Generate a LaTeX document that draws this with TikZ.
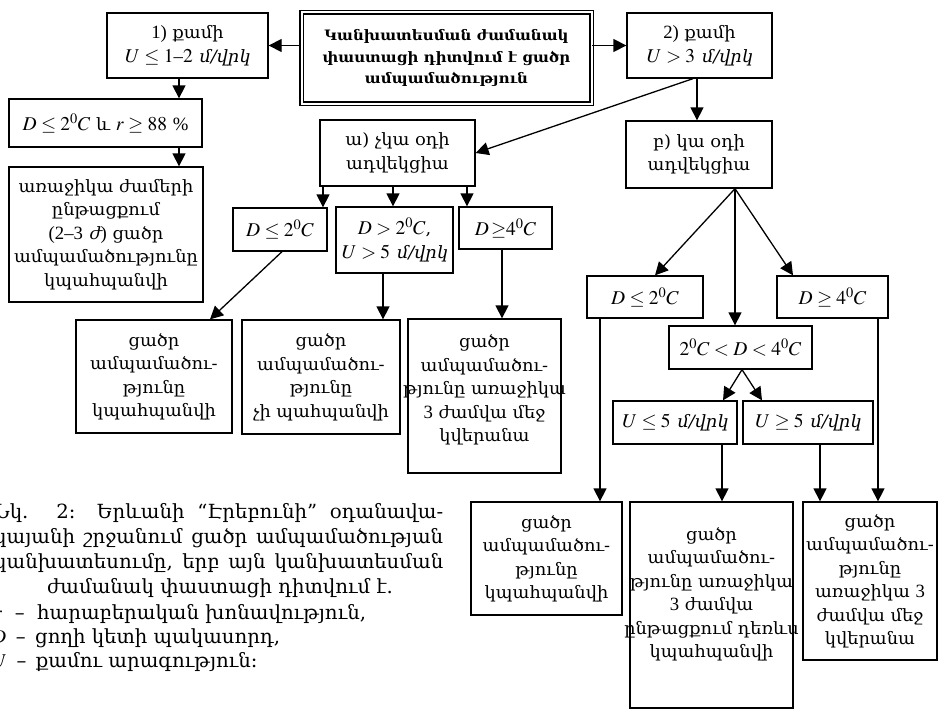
\documentclass[tikz,border=0pt]{standalone}
\usepackage{mathptmx}
\usepackage[no-math]{fontspec}
\setmainfont{DejaVu Serif}[Scale=0.87, FakeStretch=1.05]
\newfontfamily\tmfont{Liberation Serif}[Scale=0.96]
\newfontfamily\armit{DejaVu Serif}[Scale=0.87, FakeStretch=1.05, FakeSlant=0.2]
\newfontfamily\capfont{DejaVu Serif}[FakeStretch=1.01]
\newcommand\tm[1]{{\tmfont #1}}
\usetikzlibrary{arrows.meta,calc}
\tikzset{
  box/.style={draw, line width=1.3pt, inner sep=0pt, align=center,
    font=\fontsize{19.5}{23.5}\selectfont},
  ttl/.style={box, double, line width=1.4pt, double distance=2pt, font=\fontsize{16.5}{21.5}\selectfont\bfseries},
  arr/.style={line width=1.3pt, -{Triangle[length=13pt,width=13pt]}},
  captxt/.style={inner sep=0pt, font=\fontsize{19.5}{24.5}\selectfont\capfont},
}
\begin{document}
\begin{tikzpicture}[x=1pt,y=-1pt]
\useasboundingbox (0,0) rectangle (939,709);
% top
\node[ttl, minimum width=290, minimum height=91] (ttl) at (446.5,58)
  {Կանխատեսման ժամանակ\\փաստացի դիտվում է ցածր\\ամպամածություն};
\node[box, minimum width=161, minimum height=65] (b1) at (187.5,45.5)
  {\tm{1)} քամի\\$U\leq 1$\tm{–}$2$ {\armit մ/վրկ}};
\node[box, minimum width=145, minimum height=65] (b2) at (699.5,45.5)
  {\tm{2)} քամի\\$U>3$ {\armit մ/վրկ}};
% left column
\node[box, minimum width=193, minimum height=48] (bDr) at (105.5,123)
  {$D\leq 2^0C$ և $r\geq 88$ \tm{\%}};
\node[box, minimum width=194, minimum height=135] (bLong) at (106,234.5)
  {առաջիկա ժամերի\\ընթացքում\\\tm{(2–3} {\armit ժ}\tm{)} ցածր\\ամպամածությունը\\կպահպանվի};
% a-branch
\node[box, minimum width=155, minimum height=66] (bA) at (397.5,153)
  {ա) չկա օդի\\ադվեկցիա};
\node[box, minimum width=94, minimum height=43] (L1) at (280,229.5) {$D\leq 2^0C$};
\node[box, minimum width=117, minimum height=66] (L2) at (394.5,240)
  {$D>2^0C$,\\$U>5$ {\armit մ/վրկ}};
\node[box, minimum width=93, minimum height=42] (L3) at (505.5,228) {$D\,{\geq}4^0C$};
\node[box, minimum width=156, minimum height=113] (LA) at (154,376.5)
  {ցածր\\ամպամածու-\\թյունը\\կպահպանվի};
\node[box, minimum width=158, minimum height=114] (LB) at (321,377)
  {ցածր\\ամպամածու-\\թյունը\\չի պահպանվի};
\node[box, minimum width=153, minimum height=154] (LC) at (484.5,396) {};
\node[box, draw=none] at (484.5,390)
  {ցածր\\ամպամածու-\\թյունը առաջիկա\\\tm{3} ժամվա մեջ\\կվերանա};
% b-branch
\node[box, minimum width=146, minimum height=67] (bB) at (699,154.5)
  {բ) կա օդի\\ադվեկցիա};
\node[box, minimum width=116, minimum height=42] (R1) at (645,297) {$D\leq 2^0C$};
\node[box, minimum width=111, minimum height=42] (R3) at (832.5,297) {$D\geq 4^0C$};
\node[box, minimum width=143, minimum height=43] (R2) at (740.5,347.5) {$2^0C<D<4^0C$};
\node[box, minimum width=124, minimum height=43] (RU1) at (675,422.5) {$U\leq 5$ {\armit մ/վրկ}};
\node[box, minimum width=130, minimum height=43] (RU2) at (808,422.5) {$U\geq 5$ {\armit մ/վրկ}};
\node[box, minimum width=151, minimum height=113] (RA) at (546.5,558.5)
  {ցածր\\ամպամածու-\\թյունը\\կպահպանվի};
\node[box, minimum width=163, minimum height=206] (RB) at (711.5,605) {};
\node[box, draw=none] at (711.5,594)
  {ցածր\\ամպամածու-\\թյունը առաջիկա\\\tm{3} ժամվա\\ընթացքում դեռևս\\կպահպանվի};
\node[box, minimum width=134, minimum height=158] (RC) at (870,581)
  {ցածր\\ամպամածու-\\թյունը\\առաջիկա \tm{3}\\ժամվա մեջ\\կվերանա};
% arrows
\draw[arr] (ttl.west |- b1.east) -- (b1.east);
\draw[arr] (ttl.east |- b2.west) -- (b2.west);
\draw[arr] ([xshift=-8.5pt]b1.south) -- ([xshift=-8.5pt]b1.south |- bDr.north);
\draw[arr] ([xshift=73.5pt]bDr.south) -- ([xshift=73.5pt]bDr.south |- bLong.north);
\draw[arr] ([xshift=-6.5pt]b2.south) -- (bA.east);
\draw[arr] ([xshift=-2.5pt]b2.south) -- ([xshift=-2.5pt]b2.south |- bB.north);
\draw[arr] ([xshift=-74.5pt]bA.south) -- ([xshift=-74.5pt]bA.south |- L1.north);
\draw[arr] ([xshift=-4.5pt]bA.south) -- ([xshift=-4.5pt]bA.south |- L2.north);
\draw[arr] ([xshift=69.5pt]bA.south) -- ([xshift=69.5pt]bA.south |- L3.north);
\draw[arr] ([xshift=2pt]L1.south) -- ([xshift=56pt]LA.north);
\draw[arr] ([xshift=-11.5pt]L2.south) -- ([xshift=-11.5pt]L2.south |- LB.north);
\draw[arr] ([xshift=-3.5pt]L3.south) -- ([xshift=-3.5pt]L3.south |- LC.north);
\draw[arr] ([xshift=36pt]bB.south) -- ([xshift=10pt]R1.north);
\draw[arr] ([xshift=36pt]bB.south) -- ([xshift=36pt]bB.south |- R2.north);
\draw[arr] ([xshift=36pt]bB.south) -- ([xshift=-39.5pt]R3.north);
\draw[arr] ([xshift=1.5pt]R2.south) -- ([xshift=48pt]RU1.north);
\draw[arr] ([xshift=1.5pt]R2.south) -- ([xshift=-46pt]RU2.north);
\draw[arr] ([xshift=-45pt]R1.south) -- ([xshift=-45pt]R1.south |- RA.north);
\draw[arr] ([xshift=47pt]RU1.south) -- ([xshift=47pt]RU1.south |- RB.north);
\draw[arr] ([xshift=12pt]RU2.south) -- ([xshift=12pt]RU2.south |- RC.north);
\draw[arr] ([xshift=45.5pt]R3.south) -- ([xshift=45.5pt]R3.south |- RC.north);
% caption
\node[captxt, anchor=base west] (c1) at (-6,518) {\makebox[449pt][s]{Նկ. 2: Երևանի “Էրեբունի” օդանավա-}};
\node[captxt, anchor=base west] (c2) at (-6,543) {\makebox[449pt][s]{կայանի շրջանում ցածր ամպամածության}};
\node[captxt, anchor=base west] (c3) at (-6,568) {\makebox[449pt][s]{կանխատեսումը, երբ այն կանխատեսման}};
\node[captxt, anchor=base] (c4) at (220,593) {ժամանակ փաստացի դիտվում է.};
\node[captxt, anchor=base west] (c5) at (-6,619) {$r$ \ – \ հարաբերական խոնավություն,};
\node[captxt, anchor=base west] (c6) at (-8,643) {$D$ \,– \,ցողի կետի պակասորդ,};
\node[captxt, anchor=base west] (c7) at (-8,667) {$U$ \,– \,քամու արագություն:};
\end{tikzpicture}
\end{document}
